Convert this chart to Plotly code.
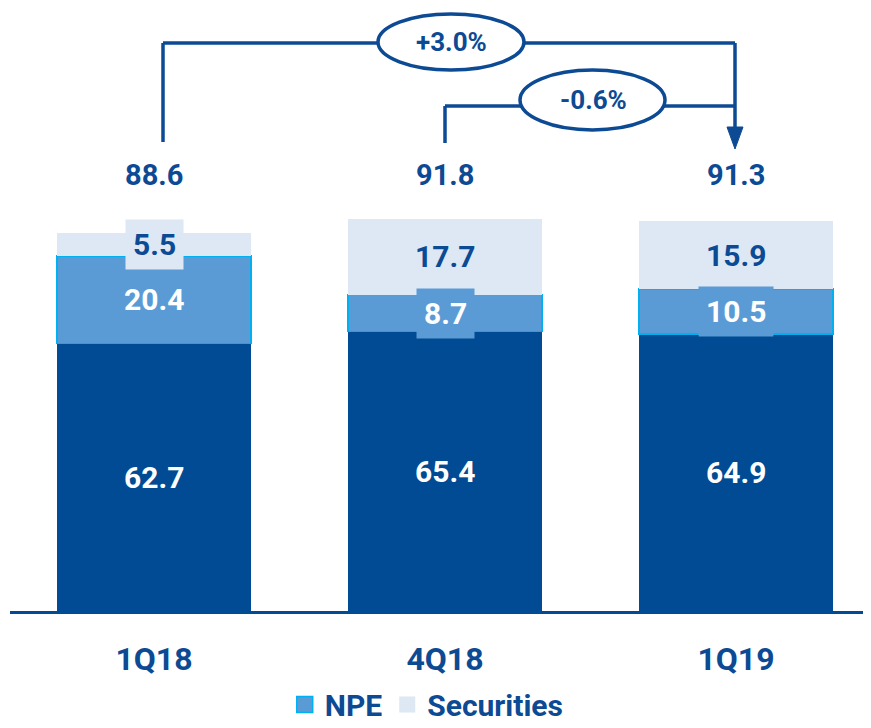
import plotly.graph_objects as go

categories = ["1Q18", "4Q18", "1Q19"]
base_vals = [62.7, 65.4, 64.9]
npe_vals = [20.4, 8.7, 10.5]
sec_vals = [5.5, 17.7, 15.9]
totals = [88.6, 91.8, 91.3]
changes = ["+3.0%", "-0.6%"]

DARK = "#004b93"
NPE_C = "#5b9bd5"
SEC_C = "#dde8f4"
TXT = "#0d4a94"
FONT = "Liberation Sans Narrow, Arial Narrow, Roboto, sans-serif"

# page has an 8px body margin
OFF = 8
W, H = 871 - OFF, 728 - OFF
AXIS_PAGE = 611
PLOT_H = AXIS_PAGE - OFF
x_idx = list(range(len(categories)))

fig = go.Figure()
fig.add_trace(go.Bar(x=x_idx, y=base_vals, marker=dict(color=DARK, line=dict(width=0)),
                     width=0.667, showlegend=False, name="Other"))
fig.add_trace(go.Bar(x=x_idx, y=npe_vals, marker=dict(color=NPE_C, line=dict(color="#00b0f0", width=1.5)),
                     width=0.667, showlegend=False, name="NPE"))
fig.add_trace(go.Bar(x=x_idx, y=sec_vals, marker=dict(color=SEC_C, line=dict(width=0)),
                     width=0.667, showlegend=False, name="Securities"))
# legend entries
fig.add_trace(go.Scatter(x=[None], y=[None], mode="markers", name="NPE",
                         marker=dict(symbol="square", size=16, color=NPE_C,
                                     line=dict(color="#00b0f0", width=1.5))))
fig.add_trace(go.Scatter(x=[None], y=[None], mode="markers", name="Securities",
                         marker=dict(symbol="square", size=16, color=SEC_C, line=dict(width=0))))

def py(pix):
    return (AXIS_PAGE - pix) / PLOT_H

px_per_cat = 291.0
def dx(pix):
    return pix / px_per_cat

ann = []
for i in x_idx:
    b, n, s = base_vals[i], npe_vals[i], sec_vals[i]
    ann.append(dict(x=i, y=b / 2, xref="x", yref="y", text=f"<b>{b}</b>", showarrow=False,
                    xanchor="center", yanchor="middle",
                    font=dict(family=FONT, size=30, color="white")))
    ann.append(dict(x=i, y=b + n / 2, xref="x", yref="y", text=f"<b>{n}</b>", showarrow=False,
                    xanchor="center", yanchor="middle",
                    font=dict(family=FONT, size=30, color="white"), bgcolor=NPE_C, borderpad=7))
    ann.append(dict(x=i, y=b + n + s / 2, xref="x", yref="y", text=f"<b>{s}</b>", showarrow=False,
                    xanchor="center", yanchor="middle",
                    font=dict(family=FONT, size=30, color=TXT), bgcolor=SEC_C, borderpad=7))
    ann.append(dict(x=i, y=py(175), xref="x", yref="paper", text=f"<b>{totals[i]}</b>",
                    xanchor="center", yanchor="middle",
                    showarrow=False, font=dict(family=FONT, size=29, color=TXT)))

shapes = []
LW = 3.5
shapes += [
    dict(type="line", xref="x", yref="paper", x0=dx(9), x1=dx(9), y0=py(142), y1=py(43),
         line=dict(color=TXT, width=LW)),
    dict(type="line", xref="x", yref="paper", x0=dx(9), x1=2 - dx(1), y0=py(43), y1=py(43),
         line=dict(color=TXT, width=LW)),
    dict(type="line", xref="x", yref="paper", x0=2 - dx(1), x1=2 - dx(1), y0=py(43), y1=py(130),
         line=dict(color=TXT, width=LW)),
    dict(type="line", xref="x", yref="paper", x0=1, x1=1, y0=py(143), y1=py(106),
         line=dict(color=TXT, width=LW)),
    dict(type="line", xref="x", yref="paper", x0=1, x1=2 - dx(1), y0=py(106), y1=py(106),
         line=dict(color=TXT, width=LW)),
    dict(type="path", xref="x", yref="paper",
         path=f"M {2 - dx(9)} {py(127)} L {2 + dx(7)} {py(127)} L {2 - dx(1)} {py(149)} Z",
         fillcolor=TXT, line=dict(color=TXT, width=1)),
    dict(type="circle", xref="x", yref="paper", x0=1 + dx(379 - 446), x1=1 + dx(525 - 446),
         y0=py(70), y1=py(14), fillcolor="white", line=dict(color=TXT, width=LW)),
    dict(type="circle", xref="x", yref="paper", x0=1 + dx(521 - 446), x1=1 + dx(666 - 446),
         y0=py(130), y1=py(70), fillcolor="white", line=dict(color=TXT, width=LW)),
]
ann.append(dict(x=1 + dx(452 - 446), y=py(42), xref="x", yref="paper", text=f"<b>{changes[0]}</b>",
                xanchor="center", yanchor="middle",
                showarrow=False, font=dict(family=FONT, size=26, color=TXT)))
ann.append(dict(x=1 + dx(594 - 446), y=py(100), xref="x", yref="paper", text=f"<b>{changes[1]}</b>",
                xanchor="center", yanchor="middle",
                showarrow=False, font=dict(family=FONT, size=26, color=TXT)))

fig.update_layout(
    width=W, height=H,
    margin=dict(l=2, r=0, t=0, b=H - PLOT_H, autoexpand=False),
    barmode="stack",
    plot_bgcolor="white", paper_bgcolor="white",
    annotations=ann, shapes=shapes,
    font=dict(family=FONT, color=TXT),
    legend=dict(orientation="h", x=0.484, xanchor="center", y=-0.112, yanchor="top",
                font=dict(family=FONT, size=30, color=TXT, weight="bold"),
                itemsizing="trace", traceorder="normal", itemwidth=30),
    xaxis=dict(range=[(10 - 154) / px_per_cat, (871 - 154) / px_per_cat],
               tickmode="array", tickvals=x_idx, ticktext=[f"<b>{c}</b>" for c in categories],
               tickfont=dict(family=FONT, size=32, color=TXT),
               showline=True, linecolor=DARK, linewidth=3, showgrid=False, zeroline=False,
               ticks="outside", ticklen=18, tickcolor="rgba(0,0,0,0)", automargin=False),
    yaxis=dict(range=[0, PLOT_H / 4.27], visible=False, showgrid=False, zeroline=False),
)

fig.write_html("out.html")
